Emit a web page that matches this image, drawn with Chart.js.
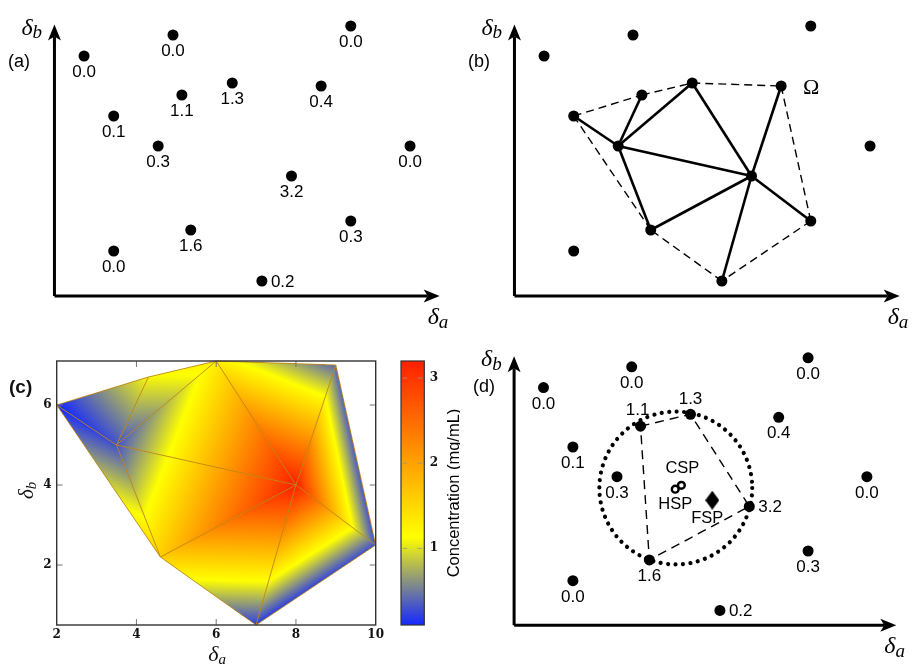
<!DOCTYPE html>
<html>
<head>
<meta charset="utf-8">
<script src="https://cdn.jsdelivr.net/npm/chart.js@4.4.0/dist/chart.umd.min.js"></script>
<style>
  html, body { margin: 0; padding: 0; background: #fff; overflow: hidden; }
  #fig { position: relative; width: 919px; height: 664px; }
  canvas { position: absolute; }
</style>
</head>
<body>
<div id="fig">
  <canvas id="panelA" width="460" height="332" style="left:0;top:0"></canvas>
  <canvas id="panelB" width="460" height="332" style="left:460px;top:0"></canvas>
  <canvas id="panelC" width="390" height="332" style="left:0;top:332px"></canvas>
  <canvas id="colorBar" width="80" height="332" style="left:380px;top:332px"></canvas>
  <canvas id="panelD" width="460" height="332" style="left:460px;top:332px"></canvas>
</div>
<script>
// sample positions in the (delta_a, delta_b) plane and measured concentration (mg/mL)
const deltaA = [1.0, 4.0, 10.0, 6.0, 4.3, 9.0, 2.0, 3.5, 12.0, 8.0, 4.6, 10.0, 2.0, 7.0];
const deltaB = [8.0, 8.7, 9.0, 7.1, 6.7, 7.0, 6.0, 5.0, 5.0, 4.0, 2.2, 2.5, 1.5, 0.5];
const concentration = [0.0, 0.0, 0.0, 1.3, 1.1, 0.4, 0.1, 0.3, 0.0, 3.2, 1.6, 0.3, 0.0, 0.2];

// triangulation of the samples inside Omega (indices into the arrays above)
const triangles = [[6, 4, 7], [4, 3, 7], [3, 9, 7], [3, 5, 9], [5, 11, 9], [11, 13, 9], [13, 10, 9], [10, 7, 9], [6, 7, 10]];
const hull = [6, 4, 3, 5, 11, 13, 10, 6];
const innerEdges = [[6, 7], [7, 4], [7, 3], [3, 9], [5, 9], [7, 9], [9, 11], [10, 9], [13, 9], [7, 10]];

// panel (d): best cell, sweet-spot estimates, search circle
const bestCell = [4, 3, 9, 10, 4];
const spNames = ['CSP', 'HSP', 'FSP'];
const spA = [5.69, 5.48, 6.74];
const spB = [4.71, 4.58, 4.21];
const circleCenter = [5.5, 4.62];
const circleRadius = 2.6;

// panel (c) axes + colour bar
const xTicksC = [2, 4, 6, 8, 10];
const yTicksC = [2, 4, 6];
const cbarTicks = [1, 2, 3];
const cbarRange = [0.1, 3.2];

// where the value labels sit relative to the dots
const labelSideA = ['below', 'below', 'below', 'below', 'below', 'below', 'below', 'below', 'below', 'below', 'below', 'below', 'below', 'right'];
const labelSideD = ['below', 'below', 'below', 'above', 'aboveLeft', 'below', 'below', 'below', 'below', 'right', 'below', 'below', 'below', 'right'];

const paletteStops = [[0, [20, 40, 255]], [1 / 3, [255, 255, 0]], [1, [255, 32, 0]]];

Chart.defaults.font.family = '"Liberation Sans", Arial, sans-serif';
Chart.defaults.color = '#000';

const pt = i => ({ x: deltaA[i], y: deltaB[i] });
const samplePoints = deltaA.map((a, i) => pt(i));
const hullEdges = hull.slice(1).map((j, k) => [hull[k], j]);

function palette(v) {
    const t = Math.min(1, Math.max(0, (v - cbarRange[0]) / (cbarRange[1] - cbarRange[0])));
    for (let k = 1; k < paletteStops.length; k++) {
        const [t0, c0] = paletteStops[k - 1];
        const [t1, c1] = paletteStops[k];
        if (t <= t1) {
            const s = (t - t0) / (t1 - t0);
            return c0.map((c, n) => Math.round(c + (c1[n] - c) * s));
        }
    }
    return paletteStops[paletteStops.length - 1][1];
}

function edgeDatasets(pairs, color, width, dash) {
    return pairs.map(([i, j]) => ({
        data: [pt(i), pt(j)],
        showLine: true,
        borderColor: color,
        borderWidth: width,
        borderDash: dash,
        pointRadius: 0,
        clip: false
    }));
}

function dotDataset() {
    return { data: samplePoints, pointRadius: 5.5, backgroundColor: '#000', borderWidth: 0, clip: false };
}

// delta with an italic subscript
function deltaText(ctx, sub, x, y, size, subSize) {
    ctx.font = 'italic ' + size + 'px "Liberation Serif", "DejaVu Serif", serif';
    ctx.textAlign = 'left';
    ctx.textBaseline = 'alphabetic';
    ctx.fillText('\u03b4', x, y);
    const w = ctx.measureText('\u03b4').width;
    ctx.font = 'italic ' + subSize + 'px "Liberation Serif", "DejaVu Serif", serif';
    ctx.fillText(sub, x + w, y + size * 0.15);
}

// hand-drawn style axes with arrow heads
const sketchAxes = {
    id: 'sketchAxes',
    afterDraw(chart, args, opts) {
        const { ctx, scales: { x, y } } = chart;
        const x0 = x.getPixelForValue(0), y0 = y.getPixelForValue(0);
        const xe = x.getPixelForValue(13), ye = y.getPixelForValue(9.05);
        ctx.save();
        ctx.fillStyle = '#000';
        ctx.strokeStyle = '#000';
        ctx.lineWidth = 3;
        ctx.beginPath();
        ctx.moveTo(x0, y0); ctx.lineTo(xe - 12, y0);
        ctx.moveTo(x0, y0); ctx.lineTo(x0, ye + 12);
        ctx.stroke();
        ctx.beginPath();
        ctx.moveTo(xe, y0); ctx.lineTo(xe - 16, y0 - 6.5); ctx.lineTo(xe - 12, y0); ctx.lineTo(xe - 16, y0 + 6.5); ctx.closePath();
        ctx.moveTo(x0, ye); ctx.lineTo(x0 - 6.5, ye + 16); ctx.lineTo(x0, ye + 12); ctx.lineTo(x0 + 6.5, ye + 16); ctx.closePath();
        ctx.fill();

        deltaText(ctx, 'b', x0 - 33, ye + 10, 24, 19);
        deltaText(ctx, 'a', xe - 12, y0 + 28, 24, 19);

        ctx.font = '18px "Liberation Sans", Arial, sans-serif';
        ctx.textBaseline = 'middle';
        ctx.textAlign = 'left';
        ctx.fillText(opts.letter, opts.letterX, opts.letterY);
        ctx.restore();
    }
};

// value labels next to each sample
const valueLabels = {
    id: 'valueLabels',
    afterDatasetsDraw(chart, args, opts) {
        if (!opts.sides) return;
        const { ctx } = chart;
        const meta = chart.getDatasetMeta(0);
        ctx.save();
        ctx.fillStyle = '#000';
        ctx.font = '17px "Liberation Sans", Arial, sans-serif';
        ctx.textBaseline = 'middle';
        opts.sides.forEach((side, i) => {
            const p = meta.data[i];
            const txt = concentration[i].toFixed(1);
            if (side === 'right') {
                ctx.textAlign = 'left';
                ctx.fillText(txt, p.x + 9, p.y + 1);
            } else if (side === 'above') {
                ctx.textAlign = 'center';
                ctx.fillText(txt, p.x, p.y - 15.5);
            } else if (side === 'aboveLeft') {
                ctx.textAlign = 'center';
                ctx.fillText(txt, p.x - 3, p.y - 16);
            } else {
                ctx.textAlign = 'center';
                ctx.fillText(txt, p.x, p.y + 16.5);
            }
        });
        ctx.restore();
    }
};

function sketchOptions(plugins) {
    return {
        responsive: false,
        animation: false,
        events: [],
        layout: { padding: { left: 10, right: 0, top: 11, bottom: 6 } },
        scales: {
            x: { type: 'linear', display: false, min: -1.5, max: 13.5 },
            y: { type: 'linear', display: false, min: -1, max: 9.5 }
        },
        plugins: Object.assign({ legend: { display: false }, tooltip: { enabled: false } }, plugins)
    };
}

// (a) sample grid with measured values
new Chart(document.getElementById('panelA'), {
    type: 'scatter',
    data: { datasets: [dotDataset()] },
    options: sketchOptions({
        sketchAxes: { letter: '(a)', letterX: 8, letterY: 62 },
        valueLabels: { sides: labelSideA }
    }),
    plugins: [sketchAxes, valueLabels]
});

// (b) triangulation of Omega
const omegaLabel = {
    id: 'omegaLabel',
    afterDatasetsDraw(chart) {
        const p = chart.getDatasetMeta(0).data[5];
        const { ctx } = chart;
        ctx.save();
        ctx.font = '22px "Liberation Serif", "DejaVu Serif", serif';
        ctx.textAlign = 'center';
        ctx.textBaseline = 'middle';
        ctx.fillStyle = '#000';
        ctx.fillText('\u03a9', p.x + 30, p.y + 2);
        ctx.restore();
    }
};

new Chart(document.getElementById('panelB'), {
    type: 'scatter',
    data: {
        datasets: [dotDataset()]
            .concat(edgeDatasets(innerEdges, '#000', 2.6, []))
            .concat(edgeDatasets(hullEdges, '#000', 1.4, [8, 5]))
    },
    options: sketchOptions({
        sketchAxes: { letter: '(b)', letterX: 8, letterY: 62 }
    }),
    plugins: [sketchAxes, omegaLabel]
});

// (c) interpolated concentration over the triangulation
const gouraud = {
    id: 'gouraud',
    beforeDatasetsDraw(chart) {
        const { ctx, chartArea: a, scales: { x, y } } = chart;
        const left = Math.floor(a.left), top = Math.floor(a.top);
        const w = Math.ceil(a.right) - left, h = Math.ceil(a.bottom) - top;
        const img = ctx.getImageData(left, top, w, h);
        const px = deltaA.map(v => x.getPixelForValue(v) - left);
        const py = deltaB.map(v => y.getPixelForValue(v) - top);
        triangles.forEach(([i, j, k]) => {
            const ax = px[i], ay = py[i], bx = px[j], by = py[j], cx = px[k], cy = py[k];
            const det = (by - cy) * (ax - cx) + (cx - bx) * (ay - cy);
            const x0 = Math.max(0, Math.floor(Math.min(ax, bx, cx))), x1 = Math.min(w - 1, Math.ceil(Math.max(ax, bx, cx)));
            const y0 = Math.max(0, Math.floor(Math.min(ay, by, cy))), y1 = Math.min(h - 1, Math.ceil(Math.max(ay, by, cy)));
            for (let yy = y0; yy <= y1; yy++) {
                for (let xx = x0; xx <= x1; xx++) {
                    const X = xx + 0.5, Y = yy + 0.5;
                    const l1 = ((by - cy) * (X - cx) + (cx - bx) * (Y - cy)) / det;
                    const l2 = ((cy - ay) * (X - cx) + (ax - cx) * (Y - cy)) / det;
                    const l3 = 1 - l1 - l2;
                    if (l1 < -0.001 || l2 < -0.001 || l3 < -0.001) continue;
                    const v = l1 * concentration[i] + l2 * concentration[j] + l3 * concentration[k];
                    const c = palette(v);
                    const o = (yy * w + xx) * 4;
                    img.data[o] = c[0]; img.data[o + 1] = c[1]; img.data[o + 2] = c[2]; img.data[o + 3] = 255;
                }
            }
        });
        ctx.putImageData(img, left, top);
    }
};

const frameC = {
    id: 'frameC',
    afterDraw(chart) {
        const { ctx, chartArea: a, scales: { x, y } } = chart;
        ctx.save();
        ctx.strokeStyle = '#777';
        ctx.lineWidth = 1;
        ctx.beginPath();
        xTicksC.slice(1, -1).forEach(v => {
            const p = x.getPixelForValue(v);
            ctx.moveTo(p, a.bottom); ctx.lineTo(p, a.bottom - 6);
            ctx.moveTo(p, a.top); ctx.lineTo(p, a.top + 6);
        });
        yTicksC.forEach(v => {
            const p = y.getPixelForValue(v);
            ctx.moveTo(a.left, p); ctx.lineTo(a.left + 6, p);
            ctx.moveTo(a.right, p); ctx.lineTo(a.right - 6, p);
        });
        ctx.stroke();
        ctx.strokeStyle = '#333';
        ctx.lineWidth = 1.4;
        ctx.strokeRect(a.left, a.top, a.right - a.left, a.bottom - a.top);

        ctx.fillStyle = '#111';
        deltaText(ctx, 'a', (a.left + a.right) / 2 - 8, 329, 22, 15);
        ctx.save();
        ctx.translate(33, 158);
        ctx.rotate(-Math.PI / 2);
        deltaText(ctx, 'b', -9, 0, 21, 15);
        ctx.restore();

        ctx.font = 'bold 19px "Liberation Sans", Arial, sans-serif';
        ctx.textAlign = 'left';
        ctx.textBaseline = 'middle';
        ctx.fillText('(c)', 9, 56);
        ctx.restore();
    }
};

const serifTicks = { family: '"DejaVu Serif", serif', weight: 'bold', size: 12 };
const noGrid = { display: false, drawTicks: false };

new Chart(document.getElementById('panelC'), {
    type: 'scatter',
    data: {
        datasets: edgeDatasets(innerEdges.concat(hullEdges), 'rgba(190,135,20,0.9)', 1, [])
    },
    options: {
        responsive: false,
        animation: false,
        events: [],
        layout: { padding: { left: 0, right: 14.3, top: 29, bottom: 0 } },
        plugins: { legend: { display: false }, tooltip: { enabled: false } },
        scales: {
            x: {
                type: 'linear', min: 2, max: 10,
                grid: noGrid, border: { display: false },
                afterBuildTicks: s => { s.ticks = xTicksC.map(v => ({ value: v })); },
                afterFit: s => { s.height = 39; },
                ticks: { padding: 3, color: '#111', font: serifTicks }
            },
            y: {
                type: 'linear', min: 0.5, max: 7.1,
                grid: noGrid, border: { display: false },
                afterBuildTicks: s => { s.ticks = yTicksC.map(v => ({ value: v })); },
                afterFit: s => { s.width = 56.7; },
                ticks: { padding: 5, color: '#111', font: serifTicks }
            }
        }
    },
    plugins: [gouraud, frameC]
});

// colour bar
const colorBarFill = {
    id: 'colorBarFill',
    beforeDatasetsDraw(chart) {
        const { ctx, chartArea: a, scales: { y } } = chart;
        ctx.save();
        for (let r = Math.floor(a.top); r < Math.ceil(a.bottom); r++) {
            const c = palette(y.getValueForPixel(r + 0.5));
            ctx.fillStyle = 'rgb(' + c.join(',') + ')';
            ctx.fillRect(a.left, r, a.right - a.left, 1);
        }
        ctx.strokeStyle = 'rgba(150,150,150,0.8)';
        ctx.lineWidth = 1;
        ctx.beginPath();
        cbarTicks.forEach(v => {
            const p = y.getPixelForValue(v);
            ctx.moveTo(a.left + 2, p); ctx.lineTo(a.left + 6, p);
            ctx.moveTo(a.right - 2, p); ctx.lineTo(a.right - 7, p);
        });
        ctx.stroke();
        ctx.strokeStyle = '#333';
        ctx.lineWidth = 1.2;
        ctx.strokeRect(a.left, a.top, a.right - a.left, a.bottom - a.top);

        ctx.translate(79, (a.top + a.bottom) / 2);
        ctx.rotate(-Math.PI / 2);
        ctx.font = '16.5px "Liberation Sans", Arial, sans-serif';
        ctx.fillStyle = '#000';
        ctx.textAlign = 'center';
        ctx.textBaseline = 'alphabetic';
        ctx.fillText('Concentration (mg/mL)', 0, 0);
        ctx.restore();
    }
};

new Chart(document.getElementById('colorBar'), {
    type: 'scatter',
    data: { datasets: [] },
    options: {
        responsive: false,
        animation: false,
        events: [],
        layout: { padding: { left: 21, right: 0, top: 29, bottom: 39 } },
        plugins: { legend: { display: false }, tooltip: { enabled: false } },
        scales: {
            x: { type: 'linear', display: false, min: 0, max: 1 },
            y: {
                type: 'linear', position: 'right', min: cbarRange[0], max: cbarRange[1],
                grid: noGrid, border: { display: false },
                afterBuildTicks: s => { s.ticks = cbarTicks.map(v => ({ value: v })); },
                afterFit: s => { s.width = 35.7; },
                ticks: { padding: 5.5, color: '#111', font: serifTicks }
            }
        }
    },
    plugins: [colorBarFill]
});

// (d) sweet-spot estimates
const diamond = document.createElement('canvas');
diamond.width = 14; diamond.height = 19;
(function () {
    const c = diamond.getContext('2d');
    c.fillStyle = '#000';
    c.beginPath();
    c.moveTo(7, 0); c.lineTo(14, 9.5); c.lineTo(7, 19); c.lineTo(0, 9.5); c.closePath();
    c.fill();
})();

const searchCircle = {
    id: 'searchCircle',
    beforeDatasetsDraw(chart) {
        const { ctx, scales: { x, y } } = chart;
        const cx = x.getPixelForValue(circleCenter[0]), cy = y.getPixelForValue(circleCenter[1]);
        const r = x.getPixelForValue(circleCenter[0] + circleRadius) - cx;
        ctx.save();
        ctx.strokeStyle = '#000';
        ctx.lineWidth = 4.2;
        ctx.lineCap = 'round';
        ctx.setLineDash([0.01, 7.5]);
        ctx.beginPath();
        ctx.arc(cx, cy, r, 0, Math.PI * 2);
        ctx.stroke();
        ctx.restore();
    },
    afterDatasetsDraw(chart) {
        const { ctx } = chart;
        const cs = chart.getDatasetMeta(1).data, fs = chart.getDatasetMeta(2).data;
        ctx.save();
        ctx.fillStyle = '#000';
        ctx.font = '16.5px "Liberation Sans", Arial, sans-serif';
        ctx.textAlign = 'center';
        ctx.textBaseline = 'middle';
        ctx.fillText(spNames[0], cs[0].x + 1, cs[0].y - 17);
        ctx.fillText(spNames[1], cs[1].x, cs[1].y + 15);
        ctx.fillText(spNames[2], fs[0].x - 5, fs[0].y + 18);
        ctx.restore();
    }
};

new Chart(document.getElementById('panelD'), {
    type: 'scatter',
    data: {
        datasets: [
            dotDataset(),
            {
                data: [{ x: spA[0], y: spB[0] }, { x: spA[1], y: spB[1] }],
                pointRadius: 3.4, borderWidth: 2.4, borderColor: '#000', backgroundColor: '#fff', clip: false
            },
            {
                data: [{ x: spA[2], y: spB[2] }],
                pointStyle: diamond, pointRadius: 8, clip: false
            },
            {
                data: bestCell.map(pt), showLine: true, borderColor: '#000', borderWidth: 1.4,
                borderDash: [9, 6], pointRadius: 0, clip: false
            }
        ]
    },
    options: sketchOptions({
        sketchAxes: { letter: '(d)', letterX: 13, letterY: 55 },
        valueLabels: { sides: labelSideD }
    }),
    plugins: [searchCircle, sketchAxes, valueLabels]
});
</script>
</body>
</html>
